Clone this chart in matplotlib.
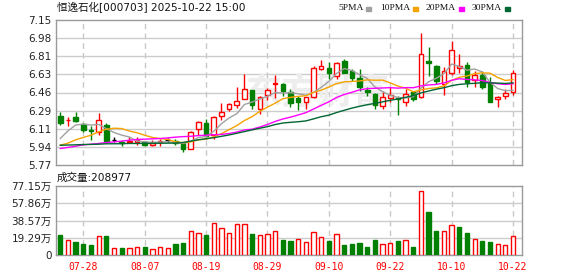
import numpy as np
import pandas as pd
import matplotlib
matplotlib.use("Agg")
import matplotlib.pyplot as plt

plt.rcParams['font.family'] = ['DejaVu Sans', 'Noto Sans CJK SC']

# --- data (60 trading days, 07-23 .. 10-22) ---
opens = [6.232, 6.195, 6.225, 6.159, 6.10, 6.086, 6.155, 6.005, 5.99, 5.99,
         5.99, 5.99, 5.965, 5.99, 6.005, 6.00, 5.975, 5.924, 6.115, 6.17,
         6.055, 6.235, 6.30, 6.34, 6.402, 6.48, 6.305, 6.435, 6.545, 6.54,
         6.46, 6.41, 6.37, 6.42, 6.683, 6.693, 6.62, 6.756, 6.66, 6.60,
         6.486, 6.445, 6.33, 6.41, 6.405, 6.37, 6.46, 6.42, 6.76, 6.71,
         6.54, 6.645, 6.695, 6.72, 6.58, 6.625, 6.55, 6.40, 6.425, 6.462]
highs = [6.27, 6.229, 6.273, 6.165, 6.14, 6.264, 6.17, 6.035, 6.01, 6.035,
         6.04, 5.995, 6.005, 6.02, 6.03, 6.02, 5.98, 6.095, 6.186, 6.21,
         6.24, 6.36, 6.36, 6.51, 6.64, 6.485, 6.43, 6.50, 6.63, 6.55,
         6.49, 6.43, 6.42, 6.71, 6.77, 6.75, 6.755, 6.78, 6.68, 6.685,
         6.508, 6.455, 6.47, 6.51, 6.425, 6.49, 6.465, 7.03, 6.895, 6.72,
         6.705, 6.95, 6.83, 6.75, 6.665, 6.665, 6.605, 6.425, 6.49, 6.67]
lows = [6.15, 6.137, 6.175, 6.08, 6.01, 6.06, 5.99, 5.99, 5.955, 5.98,
        5.965, 5.95, 5.95, 5.955, 5.985, 5.96, 5.895, 5.92, 6.06, 6.04,
        6.02, 6.20, 6.28, 6.315, 6.395, 6.30, 6.26, 6.385, 6.41, 6.425,
        6.32, 6.29, 6.30, 6.41, 6.67, 6.59, 6.59, 6.645, 6.565, 6.478,
        6.43, 6.30, 6.30, 6.37, 6.25, 6.33, 6.38, 6.41, 6.62, 6.54,
        6.44, 6.63, 6.645, 6.515, 6.515, 6.493, 6.365, 6.32, 6.395, 6.44]
closes = [6.168, 6.20, 6.187, 6.105, 6.09, 6.20, 5.997, 6.005, 5.98, 6.00,
          6.005, 5.965, 5.975, 6.00, 6.005, 5.975, 5.918, 6.08, 6.18, 6.05,
          6.23, 6.275, 6.355, 6.38, 6.49, 6.345, 6.42, 6.485, 6.555, 6.47,
          6.36, 6.37, 6.415, 6.693, 6.708, 6.645, 6.744, 6.65, 6.60, 6.508,
          6.467, 6.34, 6.42, 6.435, 6.40, 6.445, 6.40, 6.83, 6.737, 6.566,
          6.66, 6.86, 6.715, 6.56, 6.625, 6.515, 6.37, 6.42, 6.455, 6.646]
# volume in 万
volumes = [22.3, 16.3, 14.5, 12.2, 10.8, 20.8, 21.1, 7.4, 7.8, 7.4,
           8.5, 8.9, 6.3, 8.5, 7.4, 12.2, 13.4, 26.3, 24.5, 22.3,
           36.3, 29.7, 24.1, 35.2, 34.5, 23.4, 21.9, 23.0, 26.3, 16.7,
           15.6, 17.4, 14.8, 25.6, 20.0, 15.9, 23.4, 11.1, 12.2, 13.4,
           8.9, 16.7, 12.2, 13.4, 15.6, 16.7, 8.9, 71.2, 47.8, 26.7,
           26.7, 33.4, 31.2, 24.9, 17.8, 15.9, 14.8, 12.2, 11.1, 20.9]

# moving averages before enough history is on the chart
ma5_head = [6.022, 6.095, 6.15, 6.159]
ma10_head = [5.959, 5.978, 6.01, 6.032, 6.054, 6.086, 6.11, 6.12, 6.117]
ma20_head = [5.927, 5.937, 5.949, 5.962, 5.968, 5.975, 5.984, 5.99, 5.997, 6.006,
             6.013, 6.016, 6.019, 6.022, 6.028, 6.035, 6.04, 6.043, 6.05]
ma30_head = [5.958, 5.96, 5.962, 5.965, 5.966, 5.968, 5.972, 5.972, 5.973, 5.975,
             5.975, 5.976, 5.977, 5.977, 5.978, 5.979, 5.984, 5.997, 6.01, 6.02,
             6.03, 6.043, 6.056, 6.072, 6.088, 6.104, 6.12, 6.135, 6.155]

date_ticks = [3, 11, 19, 27, 35, 43, 51, 59]
date_labels = ['07-28', '08-07', '08-19', '08-29', '09-10', '09-22', '10-10', '10-22']
price_labels = ['5.77', '5.94', '6.11', '6.29', '6.46', '6.63', '6.81', '6.98', '7.15']
vol_labels = ['0', '19.29万', '38.57万', '57.86万', '77.15万']

RED = '#ff0000'
GREEN = '#008000'
ma_colors = {'5PMA': '#a0a0a0', '10PMA': '#f5a300', '20PMA': '#ff00ff', '30PMA': '#006633'}

o = np.array(opens); h = np.array(highs); l = np.array(lows); c = np.array(closes)
x = np.arange(len(c))
cs = pd.Series(c)


def ma(n, head):
    m = cs.rolling(n).mean().to_numpy()
    m[:len(head)] = head
    return m


mas = {'5PMA': ma(5, ma5_head), '10PMA': ma(10, ma10_head),
       '20PMA': ma(20, ma20_head), '30PMA': ma(30, ma30_head)}

W, H = 578, 276
fig = plt.figure(figsize=(W / 100, H / 100), dpi=100)
ax = fig.add_axes([56 / W, 1 - 165 / H, 466 / W, 145 / H])
axv = fig.add_axes([56 / W, 1 - 255 / H, 466 / W, 69 / H])

xlim = (-0.56, 60.17)
for a in (ax, axv):
    a.set_xlim(*xlim)
    for s in a.spines.values():
        s.set_color('#999999')
        s.set_linewidth(1)
    a.tick_params(length=0, labelsize=7.5, colors='#222222', pad=3)
    for d in date_ticks:
        a.axvline(d, color='#c8c8c8', lw=1, ls=(0, (4, 3)), zorder=0)

# price panel
pt = np.linspace(5.77, 7.15, 9)
ax.set_ylim(5.77, 7.15)
ax.set_yticks(pt)
ax.set_yticklabels(price_labels)
ax.set_xticks([])
for y in pt[1:-1]:
    ax.axhline(y, color='#cccccc', lw=1, zorder=0)

# faint watermark
ax.text(318 / W, 1 - 93 / H, '东方财富', transform=fig.transFigure, fontsize=26,
        color='#ededed', ha='center', va='center', fontweight='bold', zorder=1)

up = c > o
down = c < o
flat = c == o
wick_col = np.where(up, RED, np.where(down, GREEN, 'black'))
ax.vlines(x, l, h, colors=wick_col, lw=1, zorder=3)
bw = 0.6
ax.bar(x[up], (c - o)[up], bw, bottom=o[up], facecolor='white', edgecolor=RED, lw=1, zorder=4)
ax.bar(x[down], (o - c)[down], bw, bottom=c[down], facecolor=GREEN, edgecolor=GREEN, lw=1, zorder=4)
ax.hlines(c[flat], x[flat] - bw / 2, x[flat] + bw / 2, colors='black', lw=1, zorder=4)

for name, vals in mas.items():
    ax.plot(x, vals, color=ma_colors[name], lw=1, zorder=5)

# volume panel
v = np.array(volumes)
prev = np.concatenate([[o[0]], c[:-1]])
vup = c >= prev
vt = np.linspace(0, 77.15, 5)
axv.set_ylim(0, 77.15)
axv.set_yticks(vt)
axv.set_yticklabels(vol_labels)
for y in vt[1:-1]:
    axv.axhline(y, color='#cccccc', lw=1, zorder=0)
axv.bar(x[vup], v[vup], 0.56, facecolor='white', edgecolor=RED, lw=1, zorder=3)
axv.bar(x[~vup], v[~vup], 0.56, facecolor=GREEN, edgecolor=GREEN, lw=1, zorder=3)
axv.set_xticks(date_ticks)
axv.set_xticklabels(date_labels, color=RED, fontsize=7, family='DejaVu Sans Mono')
axv.tick_params(axis='x', pad=5, colors=RED)

# header texts
fig.text(57 / W, 1 - 8 / H, '恒逸石化[000703] 2025-10-22 15:00', fontsize=7.6,
         color='#111111', va='center', ha='left')
fig.text(57 / W, 1 - 177.5 / H, '成交量:208977', fontsize=7.6,
         color='#111111', va='center', ha='left')

leg = [('5PMA', 338, 366), ('10PMA', 380, 413), ('20PMA', 426, 459), ('30PMA', 472, 505)]
for name, tx, sx in leg:
    fig.text(tx / W, 1 - 8.5 / H, name, fontsize=6.8, family='Liberation Serif',
             color='#111111', va='center', ha='left')
    fig.patches.append(plt.Rectangle((sx / W, 1 - 10.5 / H), 5 / W, 3 / H,
                                     transform=fig.transFigure, color=ma_colors[name]))

fig.savefig('out.png', dpi=100)
